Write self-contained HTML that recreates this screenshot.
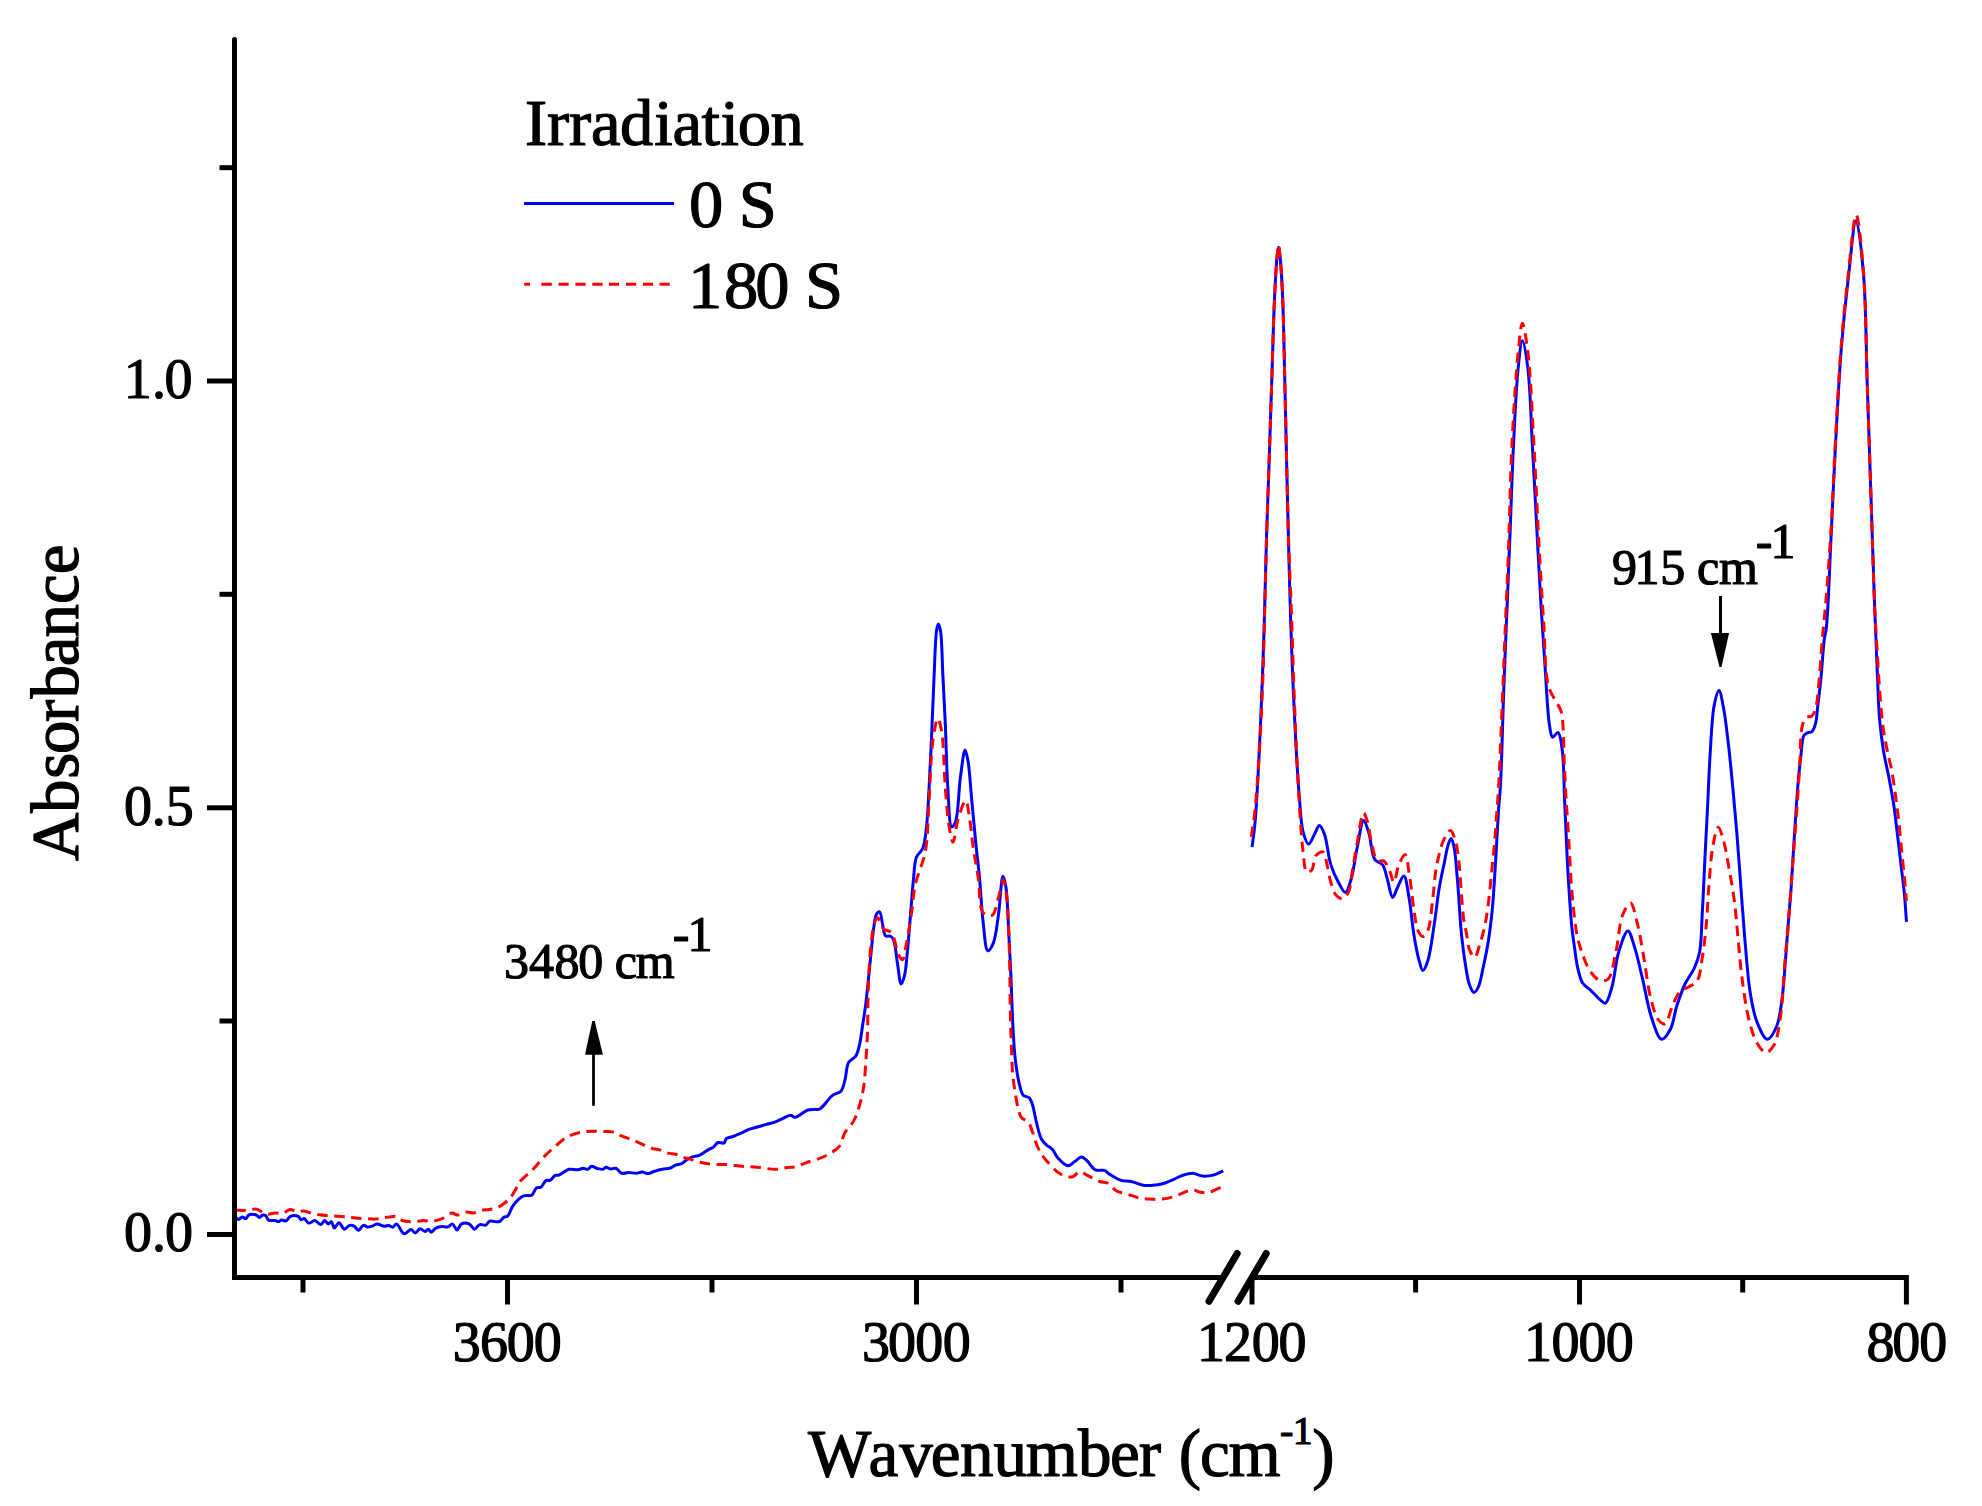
<!DOCTYPE html><html><head><meta charset="utf-8"><title>Absorbance vs Wavenumber</title>
<style>html,body{margin:0;padding:0;background:#fff;overflow:hidden}svg{display:block}</style></head><body>
<svg width="1982" height="1506" viewBox="0 0 1982 1506">
<rect width="1982" height="1506" fill="#fff"/>
<g fill="none" stroke-linejoin="round" stroke-linecap="butt">
<path d="M235.3,1217.1 C236.3,1217.9 237.2,1219.3 238.3,1219.4 C239.5,1219.5 240.8,1217.2 242.1,1217.1 C243.3,1217 244.8,1218.9 245.9,1218.6 C247.1,1218.3 247.4,1215.5 248.9,1214.8 C250.7,1214 254.6,1214.4 256.5,1215.1 C257.8,1215.6 258.5,1217.5 259.5,1217.5 C260.5,1217.5 261.4,1215.4 262.5,1215.1 C263.5,1214.8 264.7,1215 265.6,1215.6 C266.8,1216.4 267.1,1219.2 268.6,1220.1 C270.3,1221.1 273.6,1220.2 275.4,1220.6 C276.6,1220.8 277.4,1221.7 278.4,1221.6 C279.4,1221.5 280.3,1220.3 281.5,1220.1 C282.8,1219.9 284.6,1221.3 286,1220.9 C287.7,1220.4 288.6,1217.1 290.5,1216.3 C292.6,1215.4 296.3,1215.5 298.1,1216.3 C299.5,1216.9 300,1219.4 301.1,1219.7 C302,1219.9 303.1,1218.4 304.2,1218.6 C305.7,1218.9 307,1222.7 308.7,1223.1 C310.5,1223.5 312.8,1220.4 314.8,1220.6 C316.9,1220.8 319.1,1224.8 320.8,1224.6 C322.3,1224.4 323.3,1220.7 324.6,1220.6 C325.8,1220.5 327.2,1223.9 328.4,1223.9 C329.4,1223.9 330.5,1221.4 331.4,1221.6 C332.6,1221.9 333.1,1227.9 334.4,1228.1 C335.7,1228.3 337.4,1222.7 339,1222.7 C340.7,1222.7 342.4,1228.9 344.3,1229.2 C346,1229.4 347.8,1225.8 349.6,1225.4 C351.1,1225.1 352.7,1225.5 354.1,1226.2 C355.7,1227 357.2,1230.3 358.7,1230.2 C360.2,1230.1 361.6,1225.8 363.2,1225.4 C364.6,1225 366.2,1226.8 367.7,1226.9 C369.2,1227 370.8,1226.7 372.3,1226.2 C373.9,1225.7 375.1,1224.1 376.8,1223.9 C379,1223.7 382.2,1226.1 384.4,1226.2 C386.1,1226.3 387.5,1225.2 388.9,1225.4 C390.3,1225.6 391.5,1227.4 392.7,1227.2 C394,1227 395.1,1223.8 396.5,1223.9 C398.7,1224.1 401.4,1233.2 404.1,1233.7 C406.3,1234.1 408.9,1229.5 410.9,1229.6 C412.6,1229.7 413.9,1233.1 415.4,1233 C417,1232.9 418.3,1228.9 420,1228.7 C421.6,1228.5 423.7,1231.6 425.2,1231.5 C426.4,1231.4 427.3,1229.1 428.3,1229.2 C429.3,1229.3 430.2,1232.2 431.3,1232.2 C432.6,1232.2 434.1,1229 435.8,1228.1 C437.6,1227.2 439.9,1226.8 441.9,1226.6 C443.9,1226.4 446.1,1227.4 447.9,1226.9 C449.6,1226.4 451.1,1223.6 452.5,1223.9 C454.2,1224.2 455.5,1229.9 457,1229.9 C458.5,1229.9 459.6,1224.9 461.6,1223.9 C463.6,1222.9 467,1223 469.1,1223.9 C471.2,1224.8 472.6,1229.1 474.4,1229.2 C476.1,1229.3 477.7,1225.2 479.7,1224.6 C481.5,1224 484.1,1225.7 485.8,1225.1 C487.4,1224.5 487.8,1221.9 489.6,1221.2 C492,1220.3 496.9,1222.6 499.4,1221.6 C501.4,1220.8 502.4,1218 504,1217.1 C505.2,1216.4 506.5,1217 507.7,1216 C509.7,1214.3 510.6,1208.9 513,1205.7 C515.7,1202.1 520,1197.5 523.6,1195.9 C526.3,1194.7 529.7,1196.4 531.8,1195.1 C533.9,1193.8 534.5,1189.2 536.3,1188 C537.7,1187.1 539.5,1188.1 540.9,1187.2 C542.8,1186 544.4,1181.3 546.2,1180.4 C547.4,1179.8 548.7,1180.9 549.9,1180.4 C551.6,1179.7 553.4,1176.2 555.2,1175.4 C556.5,1174.8 557.5,1175.6 559,1175.1 C561.6,1174.3 565.6,1170.1 568.9,1169.3 C571.9,1168.6 575.3,1170.1 577.9,1169.8 C579.9,1169.6 581.5,1168.4 583.2,1168.3 C584.8,1168.3 586.4,1169.6 587.8,1169.3 C589.2,1169 590.2,1166.5 591.6,1166.3 C593.2,1166.1 595.1,1167.8 596.9,1168.3 C598.8,1168.8 601.3,1169.7 602.9,1169.3 C604.1,1169 604.8,1167.3 605.9,1167.2 C607.2,1167 608.9,1168.8 610.5,1169 C612.2,1169.2 614.1,1167.8 615.8,1168.3 C617.9,1168.9 619.6,1172.7 621.8,1173.3 C623.9,1173.9 626.3,1172.4 628.6,1172.4 C631.1,1172.4 633.8,1173.4 636.2,1173.3 C638.4,1173.2 640.3,1172 642.3,1172.1 C644.3,1172.2 646.3,1173.7 648.3,1173.6 C650.3,1173.5 652.1,1172 654.4,1171.3 C657.1,1170.4 660.8,1169.5 663.5,1169 C665.7,1168.6 667.5,1168.9 669.5,1168.3 C671.6,1167.7 673.5,1166 675.6,1165.2 C677.6,1164.5 679.7,1164.6 681.6,1163.7 C683.5,1162.8 685.1,1160.8 686.9,1159.6 C688.6,1158.5 690.2,1157.6 692.2,1156.9 C694.5,1156.1 697.2,1156.2 699.8,1155.1 C702.8,1153.8 706.4,1150.8 708.9,1149.4 C710.6,1148.4 712,1148.1 713.4,1147.1 C715,1145.9 716.2,1143.2 718,1142.5 C719.7,1141.9 722.6,1143.8 724,1143 C725.3,1142.3 725,1139.6 726.3,1138.5 C727.8,1137.2 730.7,1137.4 733.1,1136.5 C735.9,1135.5 739.5,1133.9 742.2,1132.7 C744.4,1131.7 745.9,1130.6 748.2,1129.7 C750.9,1128.6 754.3,1127.9 757.3,1127 C760.3,1126.1 763.4,1125.3 766.4,1124.4 C769.4,1123.5 772.5,1122.9 775.5,1121.8 C778.6,1120.7 781.8,1118.7 784.5,1117.6 C786.7,1116.7 788.7,1115.2 790.6,1115.3 C792.2,1115.3 793.2,1117.4 795.1,1117.3 C798.3,1117.1 804.2,1111.2 807.9,1110 C810.5,1109.2 812.7,1109.6 814.8,1109.4 C816.6,1109.2 817.9,1109.9 819.8,1109 C823.4,1107.3 828.7,1098 832.8,1095.1 C835.6,1093.1 838.7,1093.6 840.7,1091.5 C842.9,1089.2 843.5,1085.1 844.7,1081.1 C846.3,1075.8 846.2,1066.5 848.7,1062.2 C850.5,1059.2 853.9,1058.8 855.7,1056.2 C857.8,1053.1 858.5,1048.8 859.6,1044.3 C860.9,1038.8 861.6,1031.8 862.6,1025.4 C863.6,1018.8 864.7,1012.6 865.6,1005.4 C866.7,996.9 867.6,987 868.6,977.6 C869.6,967.8 870.7,956.5 871.6,947.7 C872.3,940.7 872.7,934.7 873.6,928.8 C874.4,923.5 874.9,916.4 876.6,913.9 C877.4,912.7 878.8,911.6 879.6,911.9 C881.1,912.5 881.5,919.8 882.5,923.8 C883.5,927.8 883.5,934.1 885.5,935.8 C886.8,936.9 889.2,935.5 890.5,936.2 C891.8,936.9 892.6,937.8 893.5,939.7 C895.5,944 896.2,956 897.5,963.6 C898.7,970.6 899.6,983.7 901.1,983.9 C902.1,984 903.6,979.2 904.5,975.6 C906,969.8 906.5,960.5 907.4,951.7 C908.5,941 909.4,927.8 910.4,915.8 C911.4,903.9 912.3,890.6 913.4,880 C914.3,871.6 914.2,862.9 916.4,857.3 C917.9,853.4 921.1,852.3 922.7,848.5 C925,843.1 925.5,835.2 926.5,827 C927.8,816.2 928.2,802.7 929,789.2 C929.9,773.6 930.7,756.5 931.5,738.7 C932.4,718.9 933.2,695 934.1,675.7 C934.9,659.3 935.3,638.5 936.6,630.3 C937.1,627.2 937.7,624 938.3,624 C938.9,624 939.8,627.2 940.4,630.3 C942,638.5 942.1,660.2 942.9,675.7 C943.8,692.1 944.6,708.4 945.4,726.1 C946.3,746 946.6,770.9 947.9,789.2 C948.9,803.4 949.1,826.3 951.7,827 C952.7,827.3 954.4,824.7 955.5,822 C958.4,814.6 958.6,789.7 960.5,776.6 C961.9,766.6 963.6,750.2 965.1,750.1 C966.1,750.1 967.2,756.5 968.1,761.5 C969.7,770.8 970.6,788.4 971.9,801.8 C973.2,815.3 974.4,829.2 975.7,842.2 C976.9,854.4 978.3,865 979.5,877.5 C980.8,891.7 981.6,909.6 983.2,922.9 C984.5,933.3 985.2,950.1 987.8,950.7 C989.3,951 991.8,946.7 993.3,943.1 C995.9,936.9 996.9,925.4 998.4,915.3 C1000.2,903.4 1001.2,876.3 1002.9,876.2 C1003.9,876.1 1005.2,882.6 1006,887.6 C1007.5,896.9 1007.7,913.8 1008.5,928 C1009.4,943.9 1010.3,961.8 1011,978.4 C1011.7,994.6 1012.1,1011.9 1012.9,1026.4 C1013.6,1038.5 1014.1,1049.5 1015.3,1059.6 C1016.3,1068 1017.5,1076.3 1019.1,1082.8 C1020.3,1087.6 1021,1092.8 1023.2,1095.2 C1024.7,1096.9 1027.5,1096.3 1029,1097.7 C1030.6,1099.2 1031.4,1101.5 1032.4,1104.4 C1034,1108.9 1034.9,1116.7 1036.5,1122.6 C1038,1128.3 1039.3,1135.2 1041.5,1139.2 C1042.9,1141.8 1044.7,1143.3 1046.5,1145 C1048.3,1146.6 1050.5,1147.3 1052.3,1149.2 C1054.5,1151.5 1055.6,1155.6 1058.1,1158.3 C1060.8,1161.2 1065,1165.7 1068,1165.8 C1070.4,1165.9 1072.5,1163 1074.7,1161.6 C1076.9,1160.1 1079.2,1157.2 1081.3,1157.1 C1083.1,1157 1084.5,1158.6 1086.3,1160 C1089,1162.2 1092,1168.3 1095.4,1169.9 C1098.2,1171.2 1102,1169.5 1104.5,1170.4 C1106.5,1171.1 1107.4,1172.8 1109.5,1174.1 C1112.5,1176 1117.3,1179.2 1121.1,1180.4 C1124.5,1181.5 1127.6,1180.8 1131.1,1181.5 C1135.3,1182.3 1140.1,1184.9 1144.4,1185.4 C1148.4,1185.9 1152.5,1185.3 1156,1184.9 C1159,1184.5 1161.6,1184 1164.3,1183.2 C1167.1,1182.4 1169.7,1181.1 1172.6,1179.9 C1175.8,1178.6 1179.1,1176.5 1182.5,1175.4 C1185.8,1174.3 1189.2,1173.1 1192.5,1173.2 C1195.8,1173.3 1199,1175.8 1202.5,1176.1 C1206.2,1176.4 1210.5,1175.9 1214.1,1174.9 C1217.4,1174 1220.2,1172.2 1223.2,1170.8" stroke="#0000ff" stroke-width="3.0"/>
<path d="M1252.1,847 C1253.1,838.6 1254.2,832.1 1255.1,821.8 C1256.6,805.5 1257.8,780.7 1258.9,758.7 C1260.1,734.6 1261.3,706.6 1262.2,683.1 C1263,662.5 1263.5,646.4 1264.2,625 C1265,598.5 1265.7,564.8 1266.6,535.9 C1267.4,508.6 1268.4,482.7 1269.3,456.1 C1270.2,429.5 1271,402.9 1271.9,376.3 C1272.8,349.7 1273.5,318.8 1274.6,296.5 C1275.4,280.4 1276.2,263.3 1277.2,255 C1277.6,251.4 1278.1,247.3 1278.6,247.3 C1279,247.3 1279.5,251.4 1279.9,255 C1280.9,263.3 1281.9,280.4 1282.6,296.5 C1283.6,318.8 1284,349.7 1284.7,376.3 C1285.3,402.9 1285.9,429.5 1286.5,456.1 C1287.1,482.7 1287.7,508.6 1288.4,535.9 C1289.1,564.8 1289.9,598.5 1290.8,625 C1291.5,646.4 1292.2,663.3 1293,683.1 C1293.9,703.7 1294.9,726.3 1296,746.1 C1297,763.8 1298,781.2 1299.3,796.5 C1300.4,809.4 1300.8,823.3 1303.1,831.9 C1304.5,837.1 1306.6,843.9 1308.6,844 C1310.4,844.1 1312.6,837.6 1314.4,834.4 C1316.2,831.4 1317.7,825.5 1319.4,825.5 C1321.1,825.5 1323,830.4 1324.5,834.4 C1327.1,841.3 1328.1,856 1330.8,864.6 C1332.9,871.4 1335.7,877.3 1338.4,882.3 C1340.6,886.3 1343.3,892.6 1345.4,892.4 C1347.6,892.2 1349.3,885.1 1351,879.8 C1353.6,871.5 1355.1,857.3 1357.3,847 C1359.3,837.7 1361.3,820.7 1363.6,820.5 C1365.2,820.4 1367,827.2 1368.6,831.9 C1371,839 1371.3,854.4 1374.9,859.6 C1376.9,862.6 1380.5,862 1382.5,864.6 C1385.1,868 1385.9,874.5 1387.5,879.8 C1389.2,885.4 1390.7,897.2 1392.6,897.4 C1394.1,897.5 1395.8,890.7 1397.6,887.3 C1399.5,883.6 1402.1,875.8 1403.9,876 C1406.2,876.3 1407.5,889.2 1409,897.4 C1411,908.2 1412.1,924 1414,935.3 C1415.5,944.6 1417.3,954 1419.1,960.5 C1420.3,964.7 1421.4,970.5 1422.8,970.6 C1424.3,970.7 1426.4,965.1 1427.9,960.5 C1430.6,952.2 1432.4,936.1 1434.3,924 C1436.2,912 1437.4,898.7 1439.2,888 C1440.7,879.4 1442.3,872.2 1443.9,864.7 C1445.4,857.7 1446.7,849 1448.3,844.3 C1449.2,841.7 1450.3,838.3 1451.2,838.4 C1452.3,838.5 1453.3,843.4 1454.1,847.2 C1455.5,853.8 1456.2,865.5 1457,874.9 C1457.9,884.5 1458.5,894.4 1459.2,904.1 C1459.9,913.9 1460.4,923.7 1461.4,933.4 C1462.4,943.2 1463.6,953.6 1465.1,962.6 C1466.4,970.4 1467.4,979.1 1469.4,984.5 C1470.7,987.9 1472.2,992.3 1473.8,992.5 C1475.2,992.6 1476.9,989.9 1478.2,987.4 C1480.5,983 1481.7,974.2 1483.3,966.9 C1485.1,958.7 1487,949.7 1488.4,940.7 C1489.9,931.2 1491.1,921.2 1492.1,911.4 C1493.1,901.7 1493.6,892.5 1494.3,882.2 C1495.1,870.7 1495.8,857.9 1496.5,845.7 C1497.2,833.5 1497.9,820.1 1498.6,809.2 C1499.2,800.3 1499.9,795.8 1500.5,785 C1501.7,763.2 1502.7,717.4 1503.9,686.2 C1504.9,658.2 1506,633.1 1507.1,606.6 C1508.2,580.1 1509.2,553.5 1510.3,527 C1511.3,500.5 1512.1,473.9 1513.4,447.4 C1514.7,420.9 1516.1,387.3 1518.2,367.8 C1519.4,356.4 1520.8,340.7 1522.4,340.7 C1524,340.7 1526.3,356.3 1527.8,367.8 C1530.3,387.3 1531,420.9 1532.5,447.4 C1534,473.9 1535.3,500.5 1536.7,527 C1538.1,553.5 1539.6,581.5 1541.1,606.6 C1542.5,629 1543.9,649.9 1545.3,670.3 C1546.6,689.1 1547.5,712.8 1549.4,724.5 C1550.3,730.3 1550.8,736.6 1552.6,737.2 C1554,737.6 1556.6,731.9 1558,732.4 C1560.3,733.1 1561.1,742.5 1562.2,749.9 C1564,762.2 1563.8,782.5 1564.6,800 C1565.5,819.2 1566.4,842.7 1567.3,860.3 C1568,874 1568.7,885.3 1569.5,896.8 C1570.2,907.1 1570.8,917 1571.7,926 C1572.5,933.9 1573.6,941 1574.6,948 C1575.5,954.5 1576.1,960.9 1577.5,966.9 C1578.8,972.5 1580,978.9 1582.6,983 C1584.7,986.3 1588,987.7 1590.7,990.3 C1593.6,993.1 1596.7,996.8 1599.4,999.1 C1601.5,1000.8 1603.5,1003.7 1605.3,1003.2 C1608.1,1002.4 1610,993.3 1612,986.7 C1614.7,977.4 1615.5,962.2 1618.6,952.2 C1621.1,944.1 1625.1,930.9 1627.9,930.9 C1630.3,930.9 1632.4,940.6 1634.5,946.9 C1637.4,955.6 1639.8,967.5 1642.5,978.7 C1645.5,991.2 1648,1007.6 1651.8,1018.6 C1654.7,1026.8 1658,1038.8 1661.6,1039.3 C1664.3,1039.7 1668,1033.6 1670.4,1029.2 C1673.6,1023.2 1674.5,1013 1677,1005.3 C1679.4,997.9 1681.9,990.5 1685,984 C1687.8,978.2 1691.8,973.5 1694.3,968.1 C1696.6,962.9 1698.3,958.8 1699.6,952.2 C1701.6,942 1701.5,926.6 1702.3,912.3 C1703.3,895.9 1704,876.9 1704.9,859.2 C1705.8,841.5 1706.7,823.8 1707.6,806.1 C1708.5,788.4 1709.1,770.2 1710.2,753 C1711.3,736.6 1711.9,716.5 1714.2,705.2 C1715.5,698.8 1717.5,690.5 1719,690.5 C1720.6,690.5 1722.1,700.8 1723.5,707.8 C1725.6,718.3 1727.2,734.3 1728.8,747.6 C1730.3,760.9 1731.5,773.8 1732.8,787.5 C1734.2,802.1 1735.5,816.9 1736.8,832.6 C1738.2,849.6 1739.5,868.1 1740.8,885.8 C1742.1,903.5 1743.3,921.2 1744.8,938.9 C1746.4,956.6 1747.7,977 1750.1,992 C1751.9,1003.2 1753.4,1012.8 1756.7,1021.2 C1759.5,1028.2 1763.7,1039.1 1767.3,1039.3 C1770.4,1039.5 1774.3,1031.8 1776.6,1026.5 C1779.7,1019.5 1780.5,1009.8 1781.9,1000 C1783.6,988.1 1784.4,973.3 1785.5,960 C1786.6,946.7 1787.5,932.4 1788.5,920 C1789.3,909.3 1790.2,901.5 1791,890 C1792.1,874.6 1793.2,853.7 1794.4,836 C1795.5,818.8 1796.7,799.7 1797.9,785 C1798.9,773.8 1799.8,764.4 1800.9,755.5 C1801.8,748.2 1801.8,739.1 1803.9,735.6 C1805,733.8 1806.5,733.3 1807.9,732.6 C1809.2,732 1810.8,732.5 1811.9,731.6 C1813.5,730.2 1814.6,726.9 1815.5,723.6 C1816.8,718.9 1817,712.2 1817.8,705.7 C1818.8,697.9 1819.8,689.4 1820.8,679.8 C1822,668 1823,649.6 1824.2,640 C1824.9,634.5 1825.7,633.3 1826.4,627 C1828.3,610.2 1829.6,565.1 1831.2,534.2 C1832.7,503.3 1834,472.3 1835.7,441.4 C1837.4,410.4 1839,377.7 1841.3,348.5 C1843.4,322.4 1846,297 1848.7,274.3 C1851,254.9 1853.6,220.4 1856.1,220.4 C1858.6,220.4 1861.7,253.1 1863.5,274.3 C1866.1,304.7 1866,348.6 1867.3,385.7 C1868.5,422.8 1869.8,460 1871,497.1 C1872.2,534.2 1873.5,575.5 1874.7,608.5 C1875.7,634.9 1876.7,659.5 1877.6,679.8 C1878.3,695 1878.5,707.2 1879.6,719.7 C1880.6,730.9 1882,741.7 1883.6,751.5 C1885,760.1 1886.9,767.1 1888.5,775.4 C1890.2,784.3 1892,793.7 1893.5,803.3 C1895.1,813.6 1896.2,824.4 1897.5,835.2 C1898.9,846.3 1900.3,858.5 1901.5,869 C1902.6,878.2 1903.7,886.2 1904.5,894.9 C1905.3,903.8 1905.8,912.8 1906.5,921.8" stroke="#0000ff" stroke-width="3.0"/>
<path d="M235.3,1210.3 C239.1,1210.3 243,1210.5 246.6,1210.3 C250,1210.1 253.8,1208.6 256.5,1209.1 C258.6,1209.5 260,1211 261.8,1211.8 C263.7,1212.7 265.6,1213.9 267.8,1214.1 C270.2,1214.4 272.9,1213.1 275.4,1213 C277.9,1212.9 280.6,1213.9 283,1213.3 C285.4,1212.7 287.5,1209.8 289.8,1209.5 C292,1209.3 294.2,1211.2 296.6,1211.5 C299,1211.8 301.7,1210.7 304.2,1211 C306.7,1211.3 309.3,1212.7 311.7,1213.3 C313.8,1213.8 315.6,1214.1 317.8,1214.5 C320.5,1214.9 323.6,1215.3 326.9,1215.6 C330.6,1215.9 335.3,1216 339,1216.3 C342.3,1216.5 345.2,1216.8 348.1,1217.1 C350.7,1217.4 352.9,1217.9 355.6,1218.1 C358.8,1218.4 362.8,1218.4 366.2,1218.6 C369.3,1218.8 372.4,1219.3 375.3,1219.1 C378,1218.9 380.5,1218.1 382.9,1217.8 C385,1217.5 386.8,1217.3 388.9,1217.1 C391.3,1216.8 394.2,1215.7 396.5,1216.3 C398.7,1216.9 400.4,1219.7 402.5,1220.6 C404.4,1221.4 406.4,1221.5 408.6,1221.6 C411.3,1221.8 415,1221.4 417.7,1221.2 C419.9,1221 421.7,1220.6 423.7,1220.6 C425.7,1220.6 427.8,1221.2 429.8,1221.2 C431.8,1221.2 433.7,1221 435.8,1220.6 C438.2,1220.1 440.8,1219.2 443.4,1218.1 C446.4,1216.8 450,1213.1 452.5,1213 C454.2,1212.9 455.2,1215 457,1215.1 C459.5,1215.2 463.2,1212.4 466.1,1212.1 C468.7,1211.8 471.2,1213.3 473.7,1213 C476.2,1212.7 478.7,1210.9 481.2,1210.3 C483.7,1209.7 486.3,1209.9 488.8,1209.5 C491.3,1209.1 493.9,1208.9 496.4,1208 C499,1207 501.7,1205.2 504,1203.5 C506.2,1201.9 508,1200.5 510,1198.2 C512.6,1195.1 515.7,1189.3 517.6,1186.1 C518.8,1184.1 518.9,1183 520.4,1181.1 C523,1177.8 529.3,1173.1 533.3,1169 C537.1,1165.1 540.1,1160.8 543.9,1156.9 C547.7,1153 551.9,1149.1 556,1145.6 C559.9,1142.3 564,1138.7 568.1,1136.5 C571.6,1134.6 575,1133.6 578.7,1132.7 C582.6,1131.8 586.8,1131.4 590.8,1131.2 C594.8,1131 598.9,1131.3 602.9,1131.5 C606.9,1131.7 611.7,1131.4 615,1132.4 C617.5,1133.1 618.8,1134.7 621.1,1135.7 C623.8,1136.9 627.3,1138 630.2,1139.1 C632.8,1140.1 635.2,1141 637.7,1142.1 C640.2,1143.2 642.8,1144.5 645.3,1145.6 C647.8,1146.7 650.3,1147.8 652.9,1148.6 C655.4,1149.3 657.9,1149.4 660.4,1150.1 C663,1150.9 665.4,1152.4 668,1153.1 C670.5,1153.8 673.1,1153.5 675.6,1154.2 C678.1,1154.9 680.6,1156.4 683.1,1157.2 C685.6,1158 688.1,1158.4 690.7,1159.2 C693.6,1160.1 696.5,1161.4 699.8,1162.2 C703.5,1163.1 707.6,1163.8 711.9,1164.2 C716.6,1164.6 722,1164.2 727,1164.5 C732.1,1164.8 737.1,1165.8 742.2,1166.3 C747.2,1166.7 752,1166.7 757.3,1167.2 C763.1,1167.7 770.1,1169.4 775.5,1169.3 C779.9,1169.2 784.2,1167.9 787.6,1167.5 C790,1167.2 791.5,1167.6 793.9,1167.1 C797.3,1166.4 801.4,1164.4 805.9,1162.8 C811.7,1160.7 820,1158.9 825.8,1155.8 C831.1,1153.1 836.5,1149.9 839.7,1145.8 C842.5,1142.1 842.4,1137 844.7,1132.9 C847.1,1128.7 851.3,1125.4 853.7,1120.9 C856.3,1116.1 858,1110.5 859.6,1105 C861.3,1099.3 862.6,1093.8 863.6,1087.1 C864.9,1078.9 865.3,1068.7 866,1059.2 C866.7,1049.4 867.3,1039.3 867.6,1029.3 C867.9,1019.4 867.7,1009.6 868,999.5 C868.3,989 868.6,977.9 869.2,967.6 C869.8,958 870.5,947.8 871.6,939.7 C872.4,933.3 873.1,926.7 874.6,922.8 C875.4,920.5 876.5,917.8 877.6,917.8 C879.3,917.8 880.9,926.3 883.5,928.8 C885.7,930.9 889.3,930.2 891.5,932.8 C895,936.9 896,950.1 898.5,954.7 C899.8,957.1 901.4,960 902.5,959.7 C904.3,959.3 905.1,949.9 906.4,943.7 C908.1,935.3 909.9,923.9 911.4,913.9 C912.9,904 913.2,894 915.4,884 C917.7,873.5 922.9,864.2 925.2,852.3 C928,837.6 927.8,819.4 929,801.8 C930.3,782.5 930.7,756.6 932.8,741.3 C934.1,731.9 936.1,718.7 937.8,718.6 C939.1,718.6 940.5,725.4 941.6,731.2 C943.8,743.4 944,771.9 945.4,789.2 C946.6,803.2 947.5,817.3 949.2,827 C950.3,833.2 951.7,842.2 953,842.2 C954.6,842.2 955.8,826.6 958,819.5 C960.1,812.8 963.7,800.4 965.6,800.6 C967.4,800.7 968.3,810.7 969.4,817 C970.9,825.5 971.7,837.1 973.2,847.2 C974.7,857.3 976.6,867 978.2,877.5 C979.9,888.8 978.8,907.7 983.2,912.8 C985.5,915.4 989.7,916.5 992.1,915.3 C995.4,913.6 996.5,903.6 998.4,897.7 C1000.3,891.8 1002,879.9 1003.4,880 C1005,880.1 1006.2,893.2 1007.2,902.7 C1008.8,918.4 1009.2,946.7 1009.7,965.8 C1010.1,981.8 1010,996.2 1010.3,1009.8 C1010.6,1021.6 1010.9,1031.9 1011.3,1043 C1011.7,1054.1 1012,1066.6 1012.9,1076.2 C1013.6,1083.7 1014.8,1090.1 1015.8,1096.1 C1016.6,1101 1017.2,1105.5 1018.3,1109.4 C1019.2,1112.5 1019.8,1115.6 1021.6,1117.7 C1023.2,1119.7 1026.5,1119.8 1028.2,1121.8 C1030.2,1124.2 1031.1,1128.3 1032.4,1131.8 C1033.9,1135.7 1034.9,1140.3 1036.5,1144.2 C1038,1147.8 1039.5,1151.1 1041.5,1154.2 C1043.4,1157.2 1045.6,1159.7 1048.1,1162.5 C1051,1165.7 1054.7,1170 1058.1,1172.4 C1060.8,1174.4 1063.7,1176 1066.4,1176.6 C1068.7,1177.1 1070.9,1177.3 1073,1176.6 C1075.4,1175.8 1077.3,1171.8 1079.7,1171.6 C1082.3,1171.4 1085,1174.2 1088,1175.7 C1091.5,1177.5 1096,1180.2 1099.6,1181.5 C1102.5,1182.5 1105.3,1181.9 1107.9,1183.2 C1110.9,1184.7 1112.9,1188.8 1116.2,1190.7 C1119.9,1192.8 1125.5,1193.5 1129.4,1194.8 C1132.5,1195.8 1134.7,1196.9 1137.7,1197.6 C1141.2,1198.4 1145.4,1198.8 1149.4,1199 C1153.7,1199.3 1158.4,1199.5 1162.6,1199 C1166.6,1198.6 1170.5,1197.7 1174.2,1196.5 C1177.7,1195.4 1181,1193.5 1184.2,1192.3 C1187.1,1191.3 1189.7,1189.8 1192.5,1189.8 C1195.3,1189.8 1198,1191.9 1200.8,1192.3 C1203.5,1192.7 1206.3,1192.9 1209.1,1192.3 C1212.3,1191.7 1216.6,1189.1 1219.1,1188.2 C1220.5,1187.7 1221.4,1187.4 1222.5,1187" stroke="#ff0000" stroke-width="3.0" stroke-dasharray="10.5 6.5"/>
<path d="M1251.3,836.9 C1252.6,827.7 1254,819.8 1255.1,809.2 C1256.6,794.9 1257.7,777.2 1258.9,758.7 C1260.3,736 1261.8,707.2 1262.7,683.1 C1263.6,661.1 1263.9,642.5 1264.5,620 C1265.2,594 1265.8,563.6 1266.6,535.9 C1267.4,508.9 1268.4,482.7 1269.3,456.1 C1270.2,429.5 1271,402.9 1271.9,376.3 C1272.8,349.7 1273.5,318.8 1274.6,296.5 C1275.4,280.4 1276.3,264.1 1277.2,255 C1277.7,250.5 1278.1,245 1278.6,245 C1279,245 1279.5,250.5 1279.9,255 C1280.8,264.1 1281.9,280.4 1282.6,296.5 C1283.6,318.8 1284,349.7 1284.7,376.3 C1285.3,402.9 1285.9,429.5 1286.5,456.1 C1287.1,482.7 1287.6,509 1288.4,535.9 C1289.3,563.6 1290.7,592.7 1291.7,620 C1292.6,645.9 1293.2,670.5 1294.2,695.7 C1295.2,720.9 1296.3,748.6 1297.5,771.3 C1298.5,789.8 1299.4,807.1 1300.5,821.8 C1301.3,833.2 1301.9,843 1303.1,852 C1304.1,859.4 1304.3,870.9 1306.8,872.2 C1308.1,872.9 1310.5,871.3 1311.9,869.7 C1314.1,867.1 1313.3,858.7 1315.7,855.8 C1317.5,853.5 1321.4,851.2 1323.2,852 C1325.5,853 1325.8,860 1327,864.6 C1328.4,870 1329.2,877 1330.8,882.3 C1332.2,886.9 1333.5,892.1 1335.8,894.9 C1337.5,896.9 1340.1,898.9 1342.1,898.7 C1344.3,898.4 1346.8,895.4 1348.4,892.4 C1350.8,887.8 1350.9,879.6 1352.2,872.2 C1353.8,863.1 1355.4,851.9 1357.3,841.9 C1359.2,832.1 1361.4,813.1 1363.6,812.9 C1364.8,812.8 1366.2,818 1367.4,821.8 C1369.3,828 1370.4,839.9 1372.4,847 C1373.9,852.4 1374.9,859.1 1377.5,860.9 C1379.2,862.1 1382,859.8 1383.8,860.9 C1386.4,862.4 1388.4,868.5 1390.1,872.2 C1391.7,875.6 1392.5,882.3 1393.8,882.3 C1395.5,882.2 1396.7,869.5 1398.9,864.6 C1400.7,860.6 1403.6,854.3 1405.2,854.6 C1407.2,855 1407.8,865.2 1409,872.2 C1410.8,882.4 1412.3,899.4 1414,910 C1415.2,917.8 1415.7,925.5 1417.8,930.2 C1419.1,933.1 1421.1,936.5 1422.8,936.5 C1424.5,936.5 1426.5,933.4 1427.9,930.2 C1430.8,923.7 1431.5,907.8 1432.9,897.4 C1434.1,888 1434.6,878.2 1435.8,870.6 C1436.7,864.9 1437.6,860.8 1438.8,855.9 C1440,851 1441.1,845.7 1443.1,841.3 C1445,837.2 1448.3,830.2 1450.4,830.4 C1452.4,830.5 1454.2,836.9 1455.6,841.3 C1457.5,847.5 1458.3,856.4 1459.2,864.7 C1460.2,873.9 1460.6,884.6 1461.4,893.9 C1462.1,902.5 1462.6,911.5 1463.6,918.7 C1464.4,924.3 1465.6,928.4 1466.5,933.4 C1467.5,938.6 1467.7,945.1 1469.4,949.4 C1470.7,952.7 1472.9,957.7 1474.5,957.5 C1476.6,957.3 1478.7,947.3 1480.4,942.1 C1482.1,936.8 1483.6,931.5 1484.8,926 C1486,920.3 1486.9,914.5 1487.7,908.5 C1488.6,902.3 1489.2,896.1 1489.9,889.5 C1490.7,882.5 1491.4,874.9 1492.1,867.6 C1492.8,860.3 1493.6,853.5 1494.3,845.7 C1495.1,836.7 1495.8,826.2 1496.5,816.5 C1497.2,806.8 1497.9,799.6 1498.6,787.3 C1499.8,766.3 1501.1,730.1 1502.3,702.2 C1503.4,675.2 1504.4,649.1 1505.5,622.5 C1506.6,596 1507.7,570.6 1508.7,542.9 C1509.8,512.5 1510.2,479.2 1511.8,447.4 C1513.4,415.5 1515.8,374.3 1518.2,351.8 C1519.5,339.4 1520.8,323.2 1522.4,323.2 C1524,323.2 1526.2,339.4 1527.8,351.8 C1530.7,374.3 1532.2,415.5 1534.1,447.4 C1535.9,479.2 1537.2,512.5 1538.9,542.9 C1540.4,570.6 1542,597.4 1543.7,622.5 C1545.2,644.9 1544.7,672.3 1548.5,686.2 C1550.5,693.6 1554.1,697.6 1556.4,702.2 C1558.2,705.8 1559.9,707.1 1561.2,711.7 C1564,722.2 1563.5,750.2 1564.4,765.9 C1565.1,777.9 1565.4,788.5 1566,797.7 C1566.4,804.8 1566.8,809.2 1567.3,816.5 C1568,826.7 1568.8,840.8 1569.5,853 C1570.2,865.2 1570.8,878 1571.7,889.5 C1572.5,899.8 1573.5,910 1574.6,918.7 C1575.5,925.7 1576.2,931.8 1577.5,937.7 C1578.7,942.9 1580.2,947.5 1581.9,952.3 C1583.6,957.2 1585.4,962.6 1587.7,966.9 C1589.8,970.8 1592.4,974.8 1595,977.2 C1596.9,979 1598.8,980.5 1600.9,980.8 C1603.1,981.1 1606.1,981 1608.2,979 C1612.2,975.2 1613.6,961.9 1615.9,952.2 C1618.5,940.9 1619.1,923.7 1622.6,915 C1624.8,909.6 1628.2,902.7 1630.5,903 C1633.3,903.4 1635.2,915.4 1637.2,923 C1639.8,932.9 1641.7,945.6 1643.8,957.5 C1646.1,970.3 1647.6,986 1650.5,997.3 C1652.7,1006 1655,1015.7 1658.4,1019.9 C1660.4,1022.3 1663.2,1024.5 1665.1,1023.9 C1668,1022.9 1669.3,1013.2 1671.7,1007.9 C1674.1,1002.5 1676.3,995.6 1679.7,992 C1682.3,989.2 1686.1,988.5 1689,986.7 C1691.8,985 1694.8,984.4 1696.9,981.4 C1700.2,976.6 1700.8,966.1 1702.3,957.5 C1704,947.7 1705.1,936.8 1706.2,925.6 C1707.4,913.1 1707.8,899.1 1708.9,885.8 C1710,872.5 1710.9,856.6 1712.9,845.9 C1714.3,838.5 1716.3,827.4 1718.2,827.3 C1719.9,827.2 1721.9,835.3 1723.5,840.6 C1725.7,847.9 1727.1,857.9 1728.8,867.2 C1730.6,877.3 1732.6,887.8 1734.1,899 C1735.8,911.5 1736.8,925.6 1738.1,938.9 C1739.4,952.2 1740.3,965.5 1742.1,978.7 C1743.9,992 1745.8,1007.1 1748.7,1018.6 C1751,1027.7 1753.2,1036.5 1756.7,1042.5 C1759.3,1046.9 1763,1052.5 1766,1052.6 C1768.7,1052.7 1771.8,1048.9 1774,1045.1 C1777.6,1038.9 1778.9,1027 1780.6,1015.9 C1782.8,1001.4 1783.3,981.4 1784.6,965.4 C1785.8,950.9 1787.2,938 1788.3,924 C1789.5,909.6 1790.4,894.3 1791.5,880 C1792.5,866.3 1793.5,853.3 1794.5,840 C1795.5,826.7 1796.6,813.3 1797.5,800 C1798.4,786.7 1799.2,772.6 1800,760 C1800.7,748.6 1800.2,735.2 1801.9,727.6 C1802.9,723.2 1803.8,719.5 1805.9,717.7 C1807.5,716.3 1810.3,717.4 1811.9,716.1 C1813.8,714.5 1814.8,711.3 1815.8,707.7 C1817.5,701.9 1817.9,693 1818.8,683.8 C1820.1,671.4 1821,654.3 1822.2,640 C1823.4,626.4 1824.7,615.2 1826,600 C1827.7,579.9 1829.5,554.8 1831,530 C1832.7,501.9 1833.8,470.2 1835.5,440 C1837.2,409.5 1838.7,377.2 1841,348 C1843.1,321.4 1845.8,295.5 1848.5,272 C1850.9,251.6 1853.6,214.9 1856.1,214.9 C1858.6,214.9 1861.7,249.7 1863.5,272 C1866.1,303.4 1866,348 1867.3,385.7 C1868.5,423 1869.8,460 1871,497.1 C1872.2,534.2 1873.5,582.7 1874.7,608.5 C1875.3,622.2 1875.8,628.3 1876.5,640 C1877.4,654.7 1878.5,674.8 1879.6,689.8 C1880.5,702.2 1881.3,713.3 1882.6,723.6 C1883.7,732.3 1885.1,739.7 1886.6,747.5 C1888.1,755 1890.1,761.9 1891.5,769.5 C1893.1,777.7 1894.3,786.9 1895.5,795.3 C1896.6,803.4 1897.5,810.8 1898.5,819.2 C1899.6,828.6 1900.5,839.1 1901.5,849.1 C1902.5,859.1 1903.6,869.8 1904.5,879 C1905.3,886.9 1905.8,893.6 1906.5,900.9" stroke="#ff0000" stroke-width="3.0" stroke-dasharray="10.5 6.5"/>
</g>
<g stroke="#000" stroke-width="5" fill="none">
<path d="M234.5,39.5 V1277.5" stroke-linecap="round"/>
<path d="M232,1277.5 H1224"/>
<path d="M1251,1277.5 H1906.4 V1304.5" stroke-linejoin="miter"/>
<path d="M207,1234.5 H233"/>
<path d="M207,807.8 H233"/>
<path d="M207,381 H233"/>
<path d="M219.5,1021 H233"/>
<path d="M219.5,594.3 H233"/>
<path d="M219.5,167.7 H233"/>
<path d="M507.5,1279 V1304.5"/>
<path d="M916.5,1279 V1304.5"/>
<path d="M1252,1279 V1304.5"/>
<path d="M1579.5,1279 V1304.5"/>
<path d="M303,1279 V1292.5"/>
<path d="M712,1279 V1292.5"/>
<path d="M1121,1279 V1292.5"/>
<path d="M1415.6,1279 V1292.5"/>
<path d="M1742.7,1279 V1292.5"/>
</g>
<path d="M1209,1301.3 L1237.2,1253.5 M1238.1,1301.3 L1266.2,1253.5" stroke="#000" stroke-width="7" stroke-linecap="round" fill="none"/>
<text font-family="Liberation Serif, Times New Roman, serif" font-size="56" fill="#000" stroke="#000" stroke-width="1.2" stroke-linejoin="round" x="123.8 152 164.6" y="397.5" xml:space="preserve">1.0</text>
<text font-family="Liberation Serif, Times New Roman, serif" font-size="56" fill="#000" stroke="#000" stroke-width="1.2" stroke-linejoin="round" x="123.9 151.8 165.7" y="824.5" xml:space="preserve">0.5</text>
<text font-family="Liberation Serif, Times New Roman, serif" font-size="56" fill="#000" stroke="#000" stroke-width="1.2" stroke-linejoin="round" x="123.9 152 165" y="1250.5" xml:space="preserve">0.0</text>
<text font-family="Liberation Serif, Times New Roman, serif" font-size="56" fill="#000" stroke="#000" stroke-width="1.2" stroke-linejoin="round" x="452.8 479.9 506.8 533.8" y="1361.2" xml:space="preserve">3600</text>
<text font-family="Liberation Serif, Times New Roman, serif" font-size="56" fill="#000" stroke="#000" stroke-width="1.2" stroke-linejoin="round" x="862 887.9 915.3 942.8" y="1361.2" xml:space="preserve">3000</text>
<text font-family="Liberation Serif, Times New Roman, serif" font-size="56" fill="#000" stroke="#000" stroke-width="1.2" stroke-linejoin="round" x="1197 1223.9 1251.8 1278.4" y="1361.2" xml:space="preserve">1200</text>
<text font-family="Liberation Serif, Times New Roman, serif" font-size="56" fill="#000" stroke="#000" stroke-width="1.2" stroke-linejoin="round" x="1524 1551.5 1578.6 1605.7" y="1361.2" xml:space="preserve">1000</text>
<text font-family="Liberation Serif, Times New Roman, serif" font-size="56" fill="#000" stroke="#000" stroke-width="1.2" stroke-linejoin="round" x="1866.6 1892.2 1919.3" y="1361.2" xml:space="preserve">800</text>
<text font-family="Liberation Serif, Times New Roman, serif" font-size="66.5" fill="#000" stroke="#000" stroke-width="1.2" stroke-linejoin="round" x="524.9 547.1 568.9 591 620 654.3 672.4 701.6 720.6 737.7 770.5" y="145" xml:space="preserve">Irradiation</text>
<text font-family="Liberation Serif, Times New Roman, serif" font-size="68.5" fill="#000" stroke="#000" stroke-width="1.2" stroke-linejoin="round" x="689 709.5 738.7" y="226.5" xml:space="preserve">0 S</text>
<text font-family="Liberation Serif, Times New Roman, serif" font-size="68.5" fill="#000" stroke="#000" stroke-width="1.2" stroke-linejoin="round" x="687.9 724 755.2 775.8 805" y="307.7" xml:space="preserve">180 S</text>
<text font-family="Liberation Serif, Times New Roman, serif" font-size="50" fill="#000" stroke="#000" stroke-width="1.2" stroke-linejoin="round" x="504 529 554.5 578.2 593.2 614.8 635.7" y="977.9" xml:space="preserve">3480 cm</text>
<text font-family="Liberation Serif, Times New Roman, serif" font-size="50" fill="#000" stroke="#000" stroke-width="1.2" stroke-linejoin="round" x="672.8 687.5" y="951" xml:space="preserve">-1</text>
<text font-family="Liberation Serif, Times New Roman, serif" font-size="50" fill="#000" stroke="#000" stroke-width="1.2" stroke-linejoin="round" x="1612 1634.5 1660.2 1675.2 1697 1719" y="584.1" xml:space="preserve">915 cm</text>
<text font-family="Liberation Serif, Times New Roman, serif" font-size="50" fill="#000" stroke="#000" stroke-width="1.2" stroke-linejoin="round" x="1755.7 1770.5" y="558" xml:space="preserve">-1</text>
<text font-family="Liberation Serif, Times New Roman, serif" font-size="67" fill="#000" stroke="#000" stroke-width="1.2" stroke-linejoin="round" x="808.1 868.6 899.2 930.8 960 993.5 1025.7 1078 1110 1138.8 1158.9 1178.8 1200 1228.5" y="1476.4" xml:space="preserve">Wavenumber (cm</text>
<text font-family="Liberation Serif, Times New Roman, serif" font-size="40" fill="#000" stroke="#000" stroke-width="1.2" stroke-linejoin="round" x="1280.1 1292.8" y="1443.9" xml:space="preserve">-1</text>
<text font-family="Liberation Serif, Times New Roman, serif" font-size="67" fill="#000" stroke="#000" stroke-width="1.2" stroke-linejoin="round" x="1312.3" y="1476.4" xml:space="preserve">)</text>
<text font-family="Liberation Serif, Times New Roman, serif" font-size="67" fill="#000" stroke="#000" stroke-width="1.2" stroke-linejoin="round" transform="rotate(-90)" x="-860.9 -813 -778.8 -753.9 -721.9 -698.6 -666.3 -637.6 -603.9 -574.3" y="78.1">Absorbance</text>
<path d="M524,203.5 H674" stroke="#0000ff" stroke-width="3"/>
<path d="M524.2,284.3 H530 M541.4,284.3 H551.8 M558.5,284.3 H568.7 M575.4,284.3 H585.7 M592.3,284.3 H602.6 M609,284.3 H619 M625.9,284.3 H636.2 M642.9,284.3 H653.1 M659.5,284.3 H669.8" stroke="#ff0000" stroke-width="3"/>
<path d="M593.5,1105.7 V1052" stroke="#000" stroke-width="2.8"/>
<path d="M592.3,1021 L594.7,1021 L602.9,1054.7 L585,1054.7 Z" fill="#000"/>
<path d="M1720.5,596 V636" stroke="#000" stroke-width="3"/>
<path d="M1710.9,632.9 L1729.1,632.9 L1721.5,667.1 L1719.5,667.1 Z" fill="#000"/>
</svg></body></html>
